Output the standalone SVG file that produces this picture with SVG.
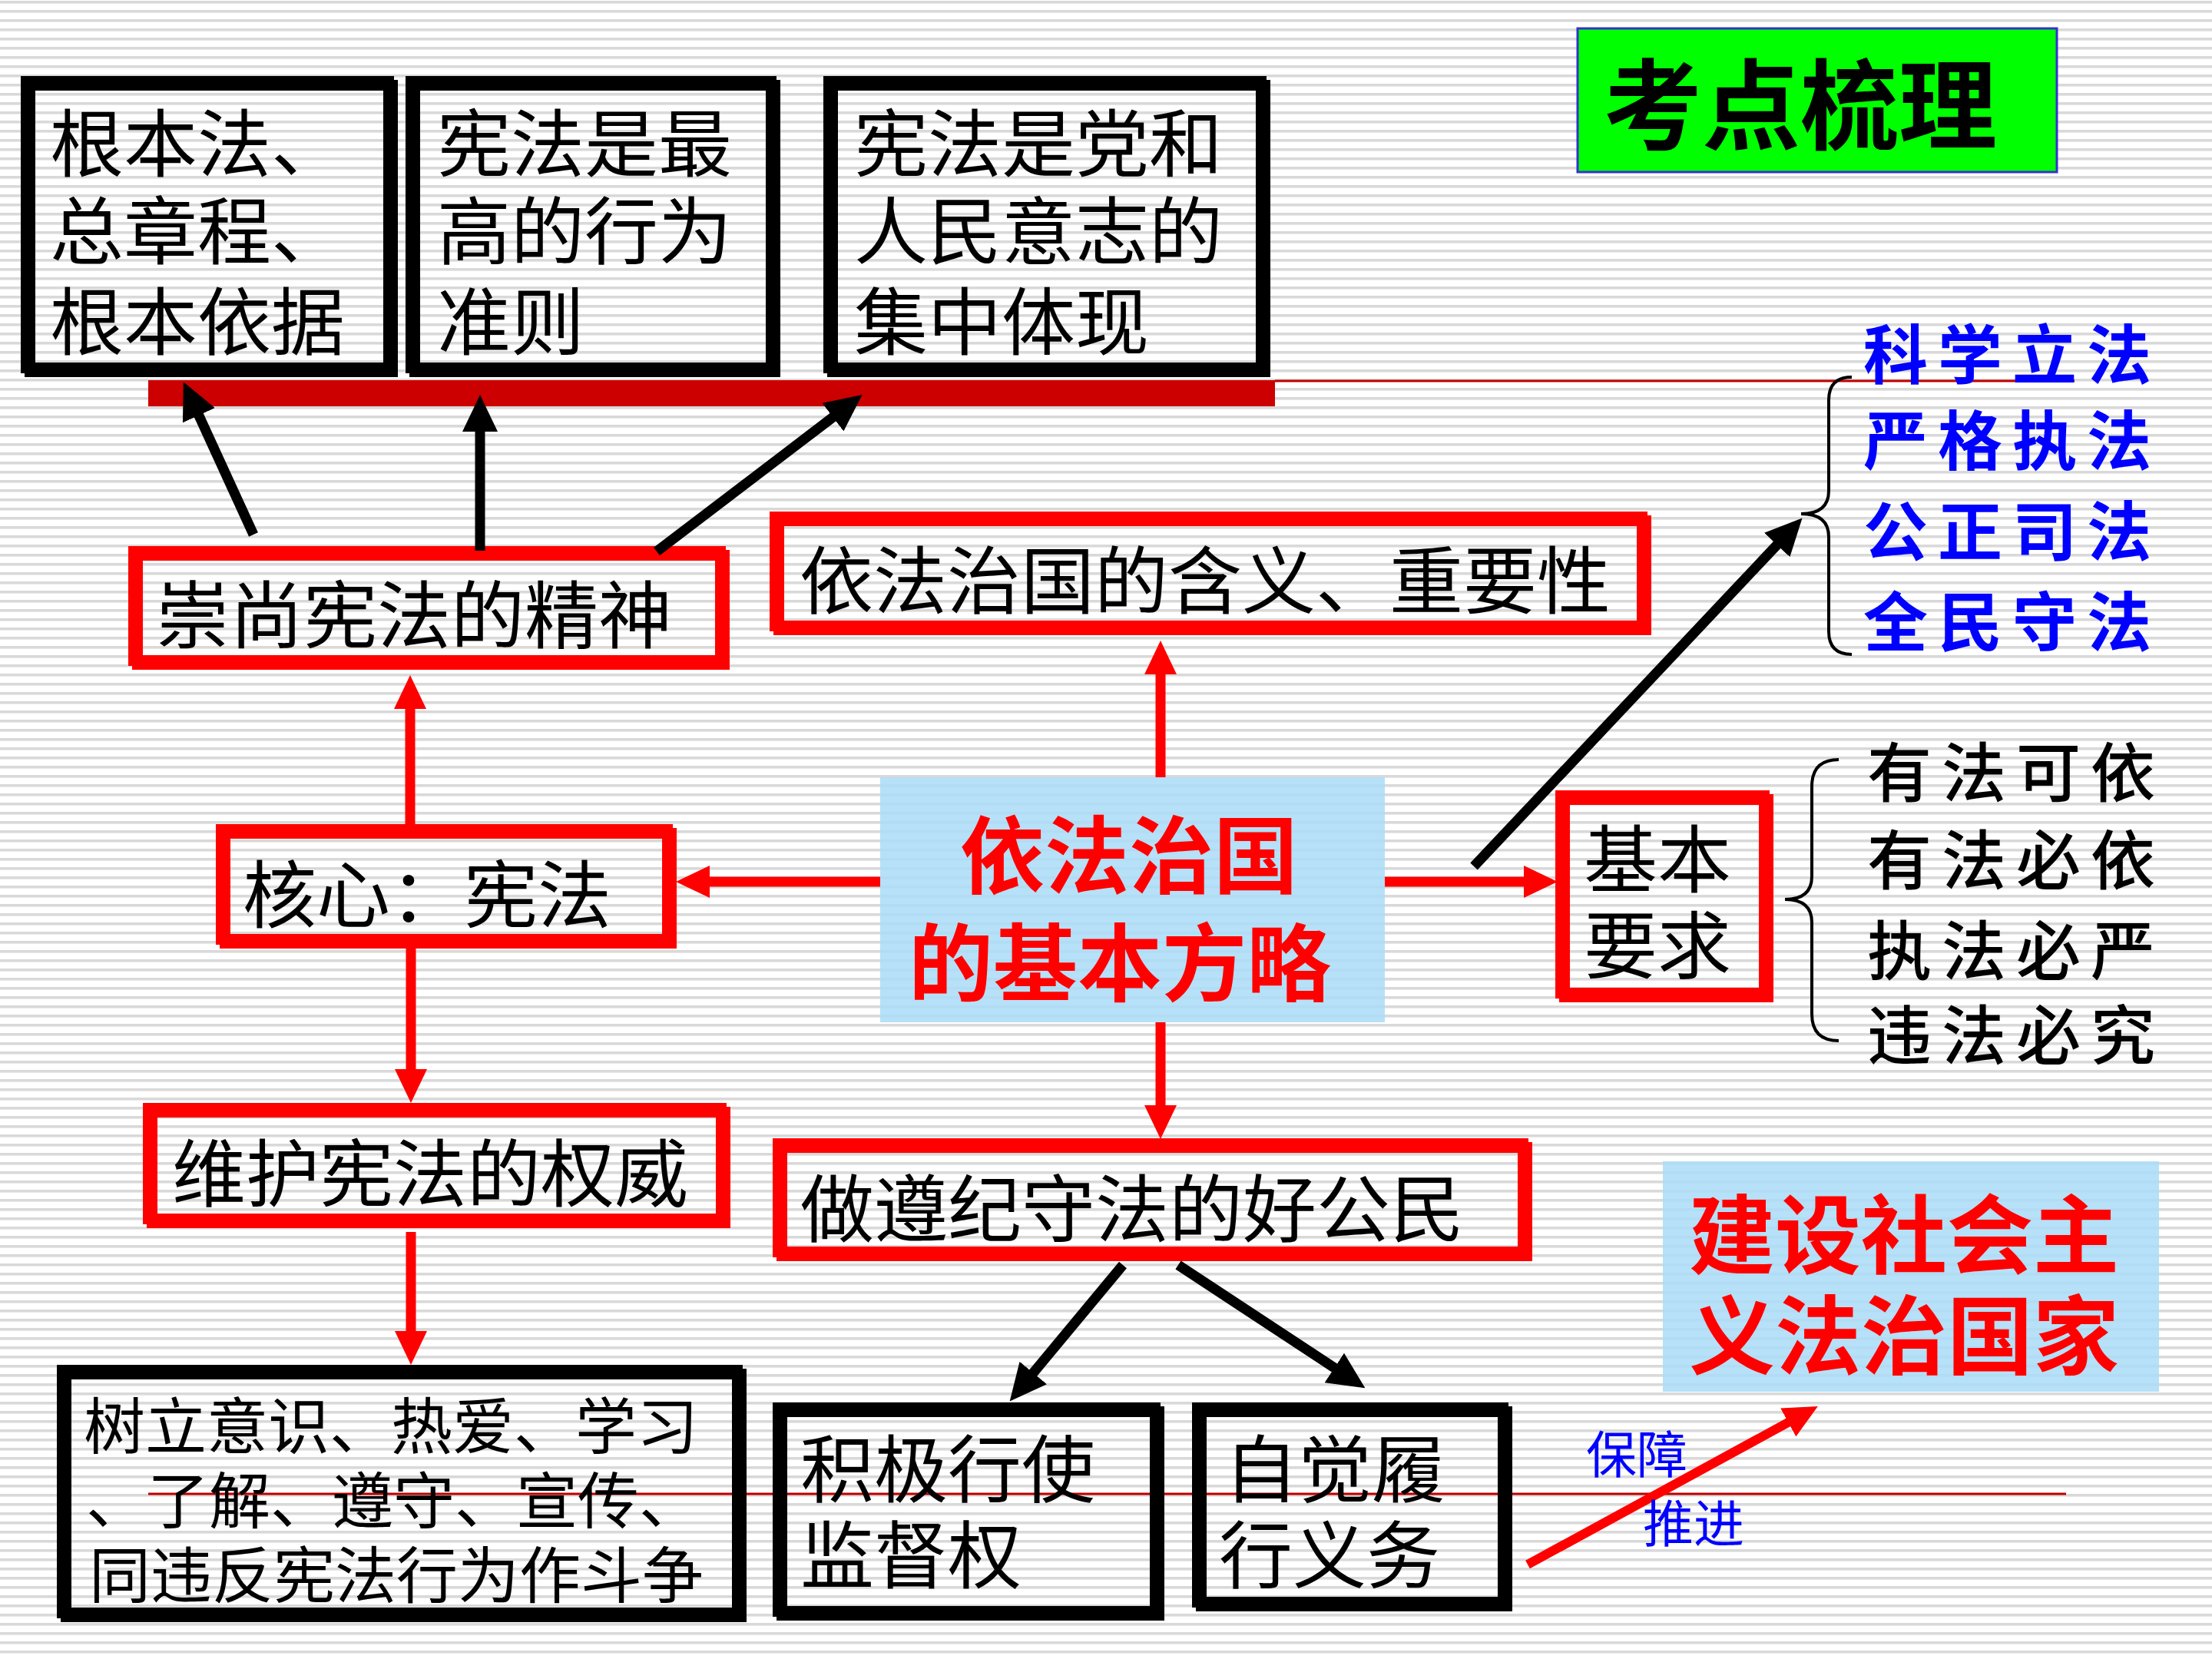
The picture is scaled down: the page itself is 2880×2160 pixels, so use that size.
<svg xmlns="http://www.w3.org/2000/svg" width="2880" height="2160" viewBox="0 0 2880 2160">
<defs>
<pattern id="stripes" x="0" y="0" width="12" height="12" patternUnits="userSpaceOnUse">
<rect x="0" y="1" width="12" height="3.6" fill="#d9d9d9"/>
</pattern>
<marker id="redHead" viewBox="0 -21 44 42" refX="2" refY="0" markerWidth="44" markerHeight="42" markerUnits="userSpaceOnUse" orient="auto">
<path d="M0,-21 L44,0 L0,21 z" fill="#ff0000"/>
</marker>
<marker id="blackHead" viewBox="0 -23 48 46" refX="2" refY="0" markerWidth="48" markerHeight="46" markerUnits="userSpaceOnUse" orient="auto">
<path d="M0,-23 L48,0 L0,23 z" fill="#000000"/>
</marker>
<style>
.t{font-family:"Noto Sans CJK SC","Noto Sans CJK TC",sans-serif;fill:#000;font-size:96px}
.s80{font-size:80px}
.bold{font-weight:bold}
.med{font-weight:500}
.redtxt{fill:#ff0000}
.bluetxt{fill:#0000ff}
.list{font-size:84px;letter-spacing:13px}
.rb{fill:none;stroke:#ff0000;stroke-width:14}
.kb{fill:none;stroke:#000;stroke-width:14}
.blue{fill:#a9dcf7;fill-opacity:0.85}
.rc{fill:none;stroke:#ff0000;stroke-width:13}
.kc{fill:none;stroke:#000;stroke-width:13}
.brace{fill:none;stroke:#000;stroke-width:4}
.thin{stroke:#c00000;stroke-width:3}
</style>
</defs>
<rect x="0" y="0" width="2880" height="2160" fill="#ffffff"/>
<rect x="0" y="0" width="2880" height="2160" fill="url(#stripes)"/>

<g id="title">
<rect x="2054" y="37" width="624" height="187" fill="#00ff00" stroke="#3333cc" stroke-width="3"/>
<text class="t bold" x="2088" y="185" style="font-size:128px">考点梳理</text>
</g>

<g id="bar">
<rect x="193" y="495" width="1467" height="34" fill="#cc0000"/>
<line class="thin" x1="1660" y1="496" x2="2701" y2="496"/>
<line class="thin" x1="193" y1="1945" x2="2690" y2="1945"/>
</g>

<g id="nodeA">
<rect class="kb" x="39" y="111" width="472" height="373"/>
<rect class="kb" x="34" y="106" width="472" height="373"/>
<text class="t" x="65" y="222">根本法、</text>
<text class="t" x="65" y="336">总章程、</text>
<text class="t" x="65" y="454">根本依据</text>
</g>
<g id="nodeB">
<rect class="kb" x="540" y="111" width="469" height="373"/>
<rect class="kb" x="535" y="106" width="469" height="373"/>
<text class="t" x="569" y="222">宪法是最</text>
<text class="t" x="569" y="336">高的行为</text>
<text class="t" x="569" y="454">准则</text>
</g>
<g id="nodeC">
<rect class="kb" x="1084" y="111" width="563" height="373"/>
<rect class="kb" x="1079" y="106" width="563" height="373"/>
<text class="t" x="1112" y="222">宪法是党和</text>
<text class="t" x="1112" y="336">人民意志的</text>
<text class="t" x="1112" y="454">集中体现</text>
</g>

<g id="nodeChongshang">
<rect class="rb" x="179" y="723" width="764" height="142"/>
<rect class="rb" x="174" y="718" width="764" height="142"/>
<text class="t" x="203" y="836">崇尚宪法的精神</text>
</g>
<g id="nodeHanyi">
<rect class="rb" x="1014" y="678" width="1129" height="142"/>
<rect class="rb" x="1009" y="673" width="1129" height="142"/>
<text class="t" x="1041" y="791">依法治国的含义、重要性</text>
</g>
<g id="nodeHexin">
<rect class="rb" x="293" y="1085" width="581" height="143"/>
<rect class="rb" x="288" y="1080" width="581" height="143"/>
<text class="t" x="316" y="1200">核心：宪法</text>
</g>
<g id="nodeCenter">
<rect class="blue" x="1146" y="1012" width="657" height="319"/>
<text class="t bold redtxt" x="1250" y="1155" style="font-size:110px">依法治国</text>
<text class="t bold redtxt" x="1183" y="1295" style="font-size:110px">的基本方略</text>
</g>
<g id="nodeJiben">
<rect class="rb" x="2037" y="1041" width="265" height="257"/>
<rect class="rb" x="2032" y="1036" width="265" height="257"/>
<text class="t" x="2062" y="1154">基本</text>
<text class="t" x="2062" y="1266">要求</text>
</g>
<g id="nodeBlueList">
<text class="t bold bluetxt list" x="2426" y="493">科学立法</text>
<text class="t bold bluetxt list" x="2426" y="605">严格执法</text>
<text class="t bold bluetxt list" x="2426" y="723">公正司法</text>
<text class="t bold bluetxt list" x="2426" y="841">全民守法</text>
</g>
<g id="nodeBlackList">
<text class="t med list" x="2431" y="1037">有法可依</text>
<text class="t med list" x="2431" y="1151">有法必依</text>
<text class="t med list" x="2431" y="1269">执法必严</text>
<text class="t med list" x="2431" y="1379">违法必究</text>
</g>
<g id="nodeWeihu">
<rect class="rb" x="198" y="1448" width="746" height="144"/>
<rect class="rb" x="193" y="1443" width="746" height="144"/>
<text class="t" x="224" y="1563">维护宪法的权威</text>
</g>
<g id="nodeGongmin">
<rect class="rb" x="1018" y="1494" width="970" height="141"/>
<rect class="rb" x="1013" y="1489" width="970" height="141"/>
<text class="t" x="1042" y="1609">做遵纪守法的好公民</text>
</g>
<g id="nodeShuli">
<rect class="kb" x="86" y="1789" width="879" height="316"/>
<rect class="kb" x="81" y="1784" width="879" height="316"/>
<text class="t s80" x="109" y="1886">树立意识、热爱、学习</text>
<text class="t s80" x="112" y="1983">、了解、遵守、宣传、</text>
<text class="t s80" x="116" y="2080">同违反宪法行为作斗争</text>
</g>
<g id="nodeJianduquan">
<rect class="kb" x="1018" y="1838" width="491" height="265"/>
<rect class="kb" x="1013" y="1833" width="491" height="265"/>
<text class="t" x="1042" y="1948">积极行使</text>
<text class="t" x="1042" y="2060">监督权</text>
</g>
<g id="nodeYiwu">
<rect class="kb" x="1564" y="1838" width="398" height="253"/>
<rect class="kb" x="1559" y="1833" width="398" height="253"/>
<text class="t" x="1594" y="1948">自觉履</text>
<text class="t" x="1587" y="2060">行义务</text>
</g>
<g id="nodeJianshe">
<rect class="blue" x="2165" y="1512" width="646" height="300"/>
<text class="t bold redtxt" x="2199" y="1650" style="font-size:112px">建设社会主</text>
<text class="t bold redtxt" x="2199" y="1781" style="font-size:112px">义法治国家</text>
</g>

<g id="connectors">
<path class="rc" d="M1511,1012 V876" marker-end="url(#redHead)"/>
<path class="rc" d="M1511,1331 V1441" marker-end="url(#redHead)"/>
<path class="rc" d="M1146,1148 H922" marker-end="url(#redHead)"/>
<path class="rc" d="M1803,1148 H1986" marker-end="url(#redHead)"/>
<path class="rc" d="M534,1073 V921" marker-end="url(#redHead)"/>
<path class="rc" d="M535,1235 V1394" marker-end="url(#redHead)"/>
<path class="rc" d="M535,1604 V1735" marker-end="url(#redHead)"/>
<path class="rc" style="stroke-width:12" d="M1989,2037 L2330,1851" marker-end="url(#redHead)"/>
<path class="kc" d="M330,696 L258,539" marker-end="url(#blackHead)"/>
<path class="kc" d="M625,717 V560" marker-end="url(#blackHead)"/>
<path class="kc" d="M855,718 L1086,542" marker-end="url(#blackHead)"/>
<path class="kc" d="M1462,1647 L1344,1789" marker-end="url(#blackHead)"/>
<path class="kc" d="M1534,1647 L1739,1782" marker-end="url(#blackHead)"/>
<path class="kc" d="M1919,1128 L2315,708" marker-end="url(#blackHead)"/>
<path class="brace" d="M2411,491 Q2381,491 2381,521 L2381,639 Q2381,669 2345,669 Q2381,669 2381,699 L2381,822 Q2381,852 2411,852"/>
<path class="brace" d="M2394,989 Q2359,989 2359,1024 L2359,1141 Q2359,1171 2324,1171 Q2359,1171 2359,1201 L2359,1320 Q2359,1355 2394,1355"/>
<text class="t bluetxt" x="2065" y="1918" style="font-size:66px">保障</text>
<text class="t bluetxt" x="2139" y="2008" style="font-size:66px">推进</text>
</g>
</svg>
